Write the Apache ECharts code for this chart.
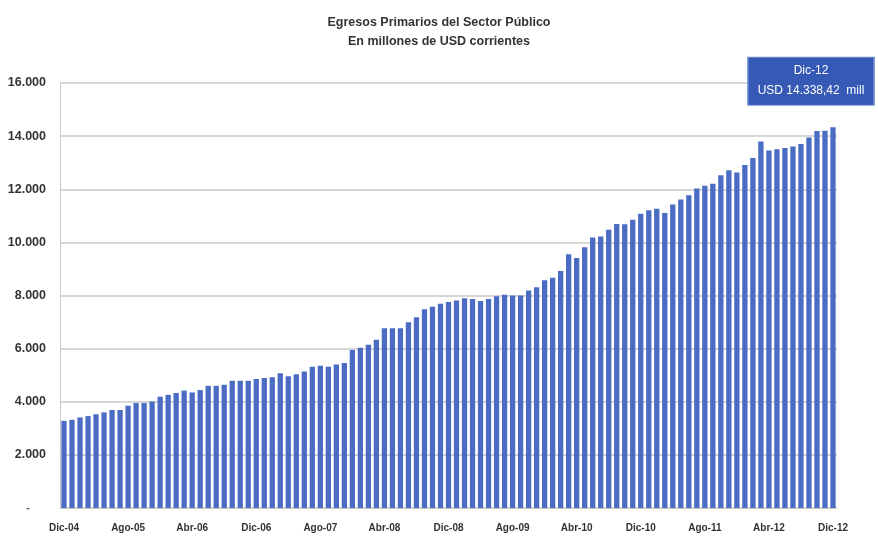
<!DOCTYPE html>
<html>
<head>
<meta charset="utf-8">
<script src="https://cdn.jsdelivr.net/npm/echarts@6/dist/echarts.min.js"></script>
<style>html,body{margin:0;padding:0;background:#fff}#c{width:878px;height:536px}</style>
</head>
<body>
<div id="c"></div>
<script>
// Month names and years used for the category axis
const monthNames = ['Ene','Feb','Mar','Abr','May','Jun','Jul','Ago','Sep','Oct','Nov','Dic'];
const startYear = 2004, startMonth = 11; // Dic-04
const nMonths = 97;                       // Dic-04 .. Dic-12

const categories = [];
for (let i = 0; i < nMonths; i++) {
  const m = (startMonth + i) % 12;
  const y = startYear + Math.floor((startMonth + i) / 12);
  categories.push(monthNames[m] + '-' + String(y % 100).padStart(2, '0'));
}

// Egresos primarios, millones de USD
const egresos = [
  3280, 3320, 3410, 3460, 3530, 3600, 3690, 3690, 3850, 3950,
  3950, 4010, 4190, 4260, 4330, 4420, 4350, 4440, 4600, 4600,
  4640, 4790, 4790, 4790, 4860, 4890, 4920, 5070, 4960, 5040,
  5140, 5320, 5360, 5320, 5400, 5460, 5950, 6030, 6150, 6330,
  6770, 6770, 6770, 6990, 7180, 7480, 7580, 7690, 7760, 7810,
  7900, 7870, 7790, 7870, 7970, 8030, 8000, 8000, 8190, 8310,
  8570, 8670, 8920, 9550, 9410, 9820, 10180, 10220, 10480, 10690,
  10680, 10850, 11080, 11210, 11270, 11110, 11430, 11610, 11770, 12030,
  12130, 12210, 12530, 12720, 12630, 12910, 13180, 13800, 13460, 13510,
  13550, 13610, 13700, 13950, 14190, 14200, 14338.42
];

const titleLines = ['Egresos Primarios del Sector Público', 'En millones de USD corrientes'];
const calloutLines = ['Dic-12', 'USD 14.338,42  mill'];

function fmtThousands(v) {
  if (v === 0) return '{d|-}';
  return String(Math.round(v)).replace(/\B(?=(\d{3})+(?!\d))/g, '.');
}

const chart = echarts.init(document.getElementById('c'), null, {renderer: 'canvas'});
const lastIdx = egresos.length - 1;

chart.setOption({
  animation: false,
  backgroundColor: '#ffffff',
  textStyle: {fontFamily: 'Liberation Sans, Arial, sans-serif'},
  title: {
    text: titleLines.join('\n'),
    left: 'center',
    top: 8,
    textStyle: {fontSize: 12.5, fontWeight: 'bold', color: '#333', lineHeight: 19}
  },
  grid: {left: 60, right: 41, top: 83, bottom: 28, containLabel: false},
  xAxis: {
    type: 'category',
    data: categories,
    axisLine: {show: true, lineStyle: {color: '#c8c8c8', width: 1}},
    axisTick: {show: false},
    axisLabel: {
      interval: 7,
      fontSize: 10,
      fontWeight: 'bold',
      color: '#333',
      margin: 15
    }
  },
  yAxis: {
    type: 'value',
    min: 0,
    max: 16000,
    interval: 2000,
    axisLine: {show: true, lineStyle: {color: '#c8c8c8', width: 1}},
    axisTick: {show: false},
    splitLine: {lineStyle: {color: '#d6d6d6', width: 2}},
    axisLabel: {
      formatter: fmtThousands,
      fontSize: 12.5,
      fontWeight: 'bold',
      color: '#333',
      margin: 14,
      rich: {d: {fontSize: 11, fontWeight: 'bold', color: '#555', padding: [0, 16, 0, 0]}}
    }
  },
  series: [{
    type: 'bar',
    data: egresos,
    barCategoryGap: '34%',
    itemStyle: {color: '#4a6cc3'},
    markPoint: {
      symbol: 'rect',
      symbolSize: [126, 48],
      symbolOffset: [-22, -46],
      itemStyle: {color: '#3559b5', borderColor: '#6a88cc', borderWidth: 1},
      label: {
        show: true,
        formatter: calloutLines.join('\n'),
        color: '#ffffff',
        fontSize: 12,
        lineHeight: 20,
        align: 'center'
      },
      data: [{coord: [categories[lastIdx], egresos[lastIdx]]}]
    }
  }]
});
</script>
</body>
</html>
